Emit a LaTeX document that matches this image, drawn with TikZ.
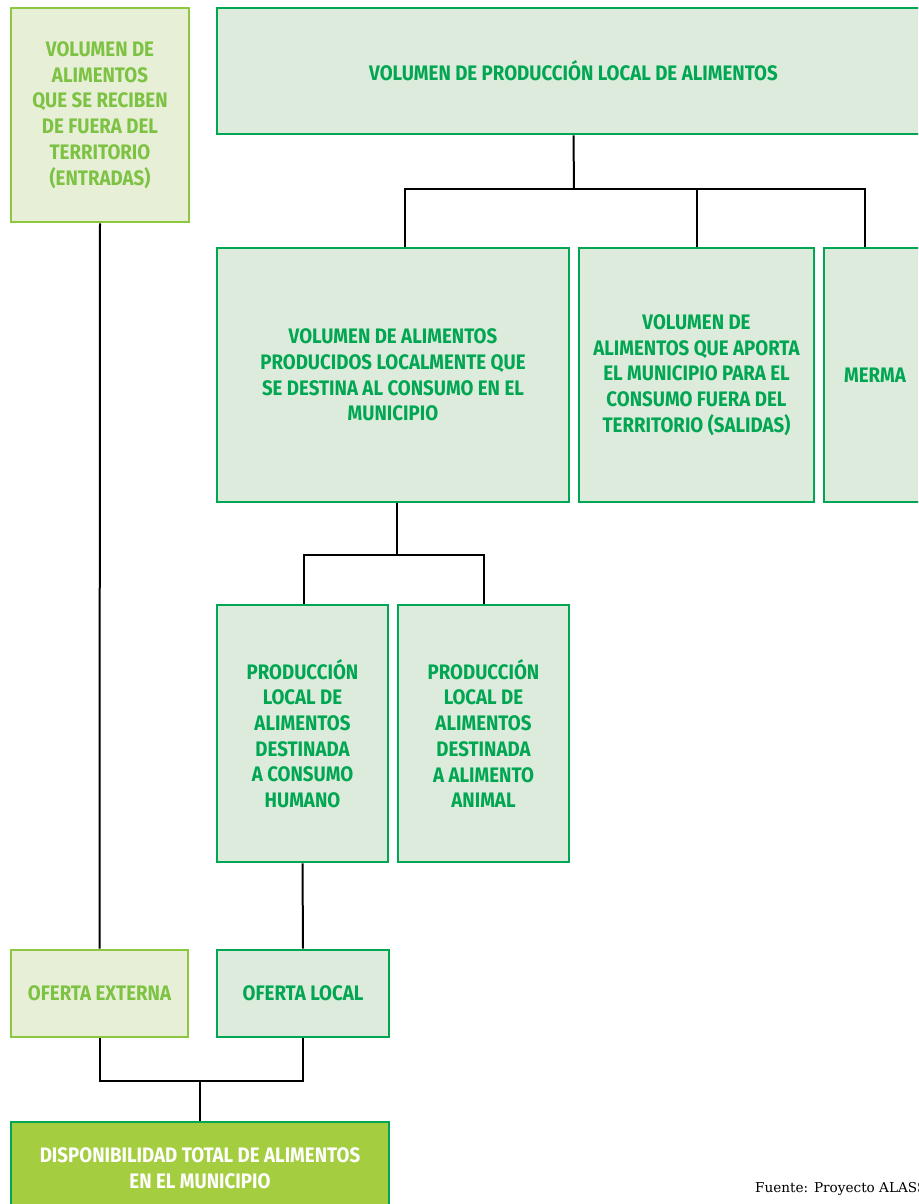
\documentclass[tikz,border=0pt]{standalone}
\usepackage{fontspec}
\newfontfamily\boxfont{Fira Sans}[FakeStretch=0.89]
\newfontfamily\srcfont{DejaVu Serif}
\definecolor{dkgreen}{HTML}{00A651}
\definecolor{dkfill}{HTML}{DDEBDC}
\definecolor{ltgreen}{HTML}{8DC63F}
\definecolor{lttext}{HTML}{7DC242}
\definecolor{ltfill}{HTML}{E7F0D7}
\definecolor{botfill}{HTML}{A4CE3F}
\tikzset{
  base/.style={line width=2.8pt, inner sep=0pt, align=center,
    font=\boxfont\bfseries\fontsize{21}{25.7}\selectfont},
  dkbox/.style={base, draw=dkgreen, fill=dkfill, text=dkgreen},
  ltbox/.style={base, draw=ltgreen, fill=ltfill, text=lttext},
  botbox/.style={base, draw=dkgreen, fill=botfill, text=white},
  conn/.style={line width=2pt, black},
}
\newcommand{\bx}[7]{% style, name, x1, y1, x2, y2, text
  \node[#1, minimum width={(#5-#3)*1pt}, minimum height={(#6-#4)*1pt}]
    (#2) at ({(#3+#5)/2},{(#4+#6)/2}) {#7};}
\begin{document}
\begin{tikzpicture}[x=1pt,y=-1pt]
\useasboundingbox (0,0) rectangle (918,1204);
\clip (0,0) rectangle (918,1204);
\fill[white] (0,0) rectangle (918,1204);
\bx{ltbox}{entradas}{11}{8}{189}{222}{VOLUMEN DE\\ALIMENTOS\\QUE SE RECIBEN\\DE FUERA DEL\\TERRITORIO\\(ENTRADAS)}
\bx{dkbox}{top}{217}{8}{930}{134}{VOLUMEN DE PRODUCCIÓN LOCAL DE ALIMENTOS}
\bx{dkbox}{A}{217}{248}{569}{502}{VOLUMEN DE ALIMENTOS\\PRODUCIDOS LOCALMENTE QUE\\SE DESTINA AL CONSUMO EN EL\\MUNICIPIO}
\bx{dkbox}{B}{579}{248}{814}{502}{VOLUMEN DE\\ALIMENTOS QUE APORTA\\EL MUNICIPIO PARA EL\\CONSUMO FUERA DEL\\TERRITORIO (SALIDAS)}
\bx{dkbox}{merma}{824}{248}{926}{502}{MERMA}
\bx{dkbox}{C}{217}{605}{388}{862}{PRODUCCIÓN\\LOCAL DE\\ALIMENTOS\\DESTINADA\\A CONSUMO\\HUMANO}
\bx{dkbox}{D}{398}{605}{569}{862}{PRODUCCIÓN\\LOCAL DE\\ALIMENTOS\\DESTINADA\\A ALIMENTO\\ANIMAL}
\bx{ltbox}{externa}{11}{950}{188}{1037}{OFERTA EXTERNA}
\bx{dkbox}{local}{217}{950}{389}{1037}{OFERTA LOCAL}
\bx{botbox}{total}{11}{1122}{389}{1214}{DISPONIBILIDAD TOTAL DE ALIMENTOS\\EN EL MUNICIPIO}
\node[anchor=base west, font=\srcfont\fontsize{13.6}{16}\selectfont, inner sep=0pt] (src) at (755,1192) {Fuente: Proyecto ALASS};
% connectors
\coordinate (j1) at (574,189);
\coordinate (j2) at (397,555);
\coordinate (j3) at (200,1081);
\draw[conn] (top.south) -- (j1);
\draw[conn] ([xshift=12pt]A.north) |- (j1) -| ([xshift=-10pt]merma.north);
\draw[conn] (B.north) -- (B.north |- j1);
\draw[conn] ([xshift=4pt]A.south) -- (j2);
\draw[conn] ([xshift=1.5pt]C.north) |- (j2) -| (D.north);
\draw[conn] (entradas.south) -- (externa.north);
\draw[conn] (C.south) -- (local.north);
\draw[conn] (externa.south) |- (j3) -| (local.south);
\draw[conn] (total.north) -- (j3);
\end{tikzpicture}
\end{document}
